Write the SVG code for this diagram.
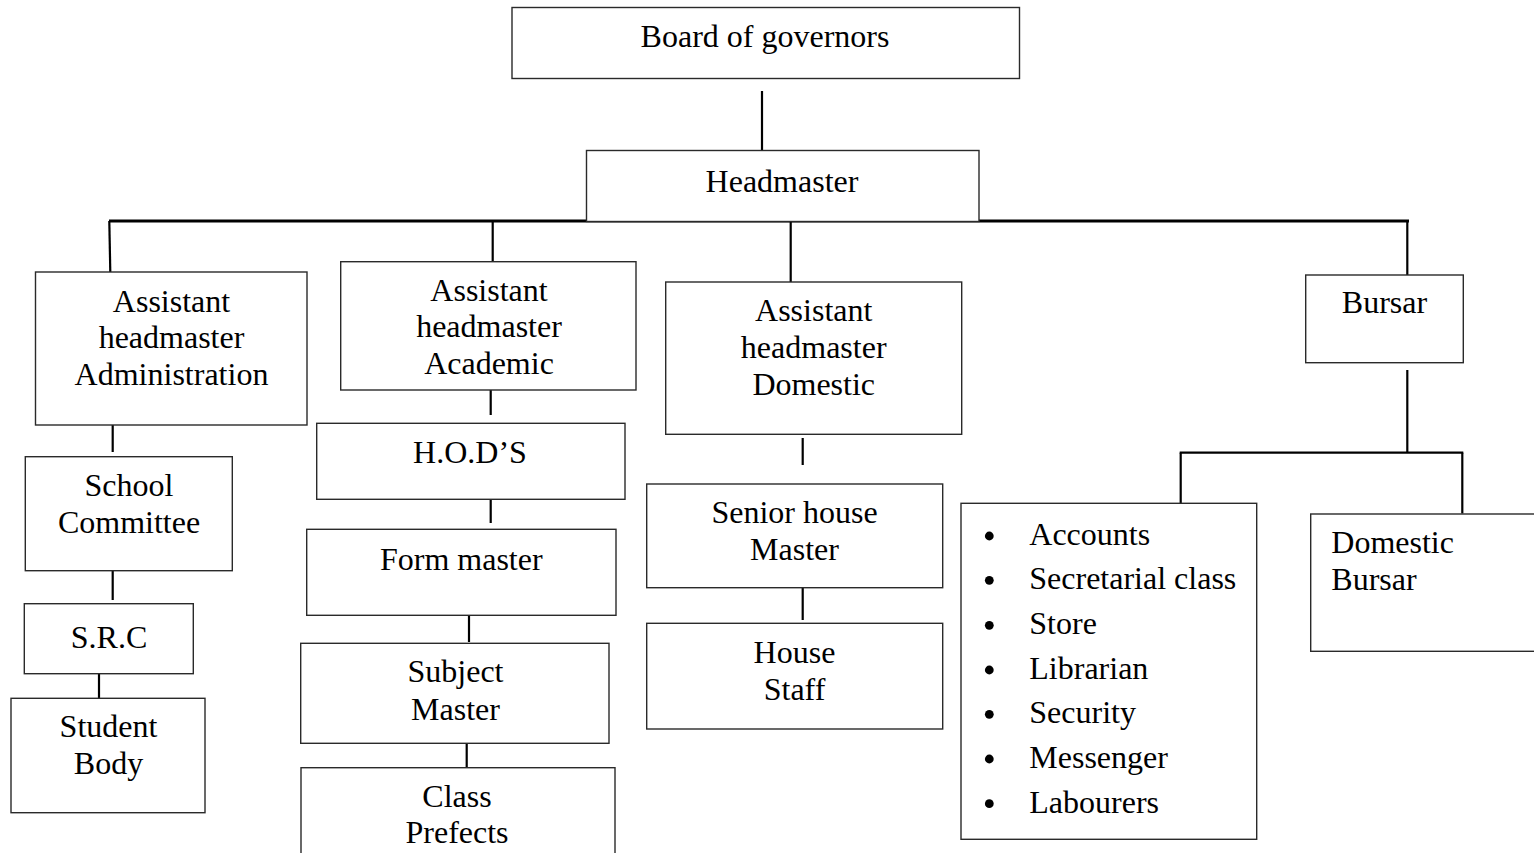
<svg xmlns="http://www.w3.org/2000/svg" width="1534" height="853" viewBox="0 0 1534 853">
<style>
rect.box{fill:#fff;stroke:#2a2a2a;stroke-width:1.4}
text{font-family:"Liberation Serif","Times New Roman",serif;font-size:32px;fill:#000}
text.c{text-anchor:middle}
#connectors line{stroke:#000;stroke-width:2.2}
circle.b{fill:#000}
</style>
<rect width="1534" height="853" fill="#fff"/>
<g id="connectors">
<line x1="762" y1="91" x2="762" y2="150"/>
<line x1="109" y1="221" x2="1409" y2="221" style="stroke-width:2.8"/>
<line x1="109.3" y1="221" x2="110.3" y2="272"/>
<line x1="492.7" y1="221" x2="492.7" y2="262"/>
<line x1="790.7" y1="221" x2="790.7" y2="282"/>
<line x1="1407.3" y1="221" x2="1407.3" y2="275"/>
<line x1="112.7" y1="425" x2="112.7" y2="452"/>
<line x1="112.7" y1="571" x2="112.7" y2="600"/>
<line x1="99" y1="674" x2="99" y2="698"/>
<line x1="490.7" y1="390" x2="490.7" y2="415"/>
<line x1="490.7" y1="498" x2="490.7" y2="523"/>
<line x1="469" y1="615" x2="469" y2="642"/>
<line x1="466.7" y1="738" x2="466.7" y2="768"/>
<line x1="802.7" y1="438" x2="802.7" y2="465"/>
<line x1="802.7" y1="588" x2="802.7" y2="620"/>
<line x1="1407.3" y1="370" x2="1407.3" y2="452.7"/>
<line x1="1179.7" y1="452.7" x2="1463.3" y2="452.7"/>
<line x1="1180.7" y1="452.7" x2="1180.7" y2="503.3"/>
<line x1="1462.3" y1="452.7" x2="1462.3" y2="513.5"/>
</g>
<g id="board"><rect class="box" x="512" y="7.5" width="507.5" height="71"/><text class="c" x="765" y="47.3">Board of governors</text></g>
<g id="headmaster"><rect class="box" x="586.5" y="150.5" width="392.5" height="71"/><text class="c" x="782" y="191.5">Headmaster</text></g>
<g id="ah-admin"><rect class="box" x="35.5" y="272" width="271.5" height="153"/><text class="c" x="171.5" y="311.7">Assistant</text><text class="c" x="171.5" y="347.7">headmaster</text><text class="c" x="171.5" y="385">Administration</text></g>
<g id="ah-academic"><rect class="box" x="340.7" y="261.7" width="295.3" height="128.3"/><text class="c" x="489" y="300.5">Assistant</text><text class="c" x="489" y="337">headmaster</text><text class="c" x="489" y="374">Academic</text></g>
<g id="ah-domestic"><rect class="box" x="665.7" y="282" width="296" height="152.3"/><text class="c" x="813.7" y="321">Assistant</text><text class="c" x="813.7" y="357.7">headmaster</text><text class="c" x="813.7" y="395">Domestic</text></g>
<g id="bursar"><rect class="box" x="1305.7" y="275" width="157.6" height="87.7"/><text class="c" x="1384.5" y="313">Bursar</text></g>
<g id="school-committee"><rect class="box" x="25.3" y="456.7" width="207" height="114"/><text class="c" x="129" y="496">School</text><text class="c" x="129" y="532.7">Committee</text></g>
<g id="src"><rect class="box" x="24.3" y="603.7" width="169" height="70"/><text class="c" x="109" y="647.7">S.R.C</text></g>
<g id="student-body"><rect class="box" x="11" y="698.3" width="194" height="114.4"/><text class="c" x="108.5" y="737.3">Student</text><text class="c" x="108.5" y="774">Body</text></g>
<g id="hods"><rect class="box" x="316.7" y="423.3" width="308.3" height="76"/><text class="c" x="470" y="462.7">H.O.D’S</text></g>
<g id="form-master"><rect class="box" x="306.7" y="529.3" width="309.3" height="86"/><text class="c" x="461.3" y="570">Form master</text></g>
<g id="subject-master"><rect class="box" x="300.7" y="643.3" width="308.3" height="100"/><text class="c" x="455.5" y="681.7">Subject</text><text class="c" x="455.5" y="720">Master</text></g>
<g id="class-prefects"><rect class="box" x="301" y="767.7" width="314" height="100"/><text class="c" x="457" y="806.7">Class</text><text class="c" x="457" y="843.3">Prefects</text></g>
<g id="senior-house-master"><rect class="box" x="646.7" y="484" width="296" height="103.7"/><text class="c" x="794.5" y="522.7">Senior house</text><text class="c" x="794.5" y="560">Master</text></g>
<g id="house-staff"><rect class="box" x="646.7" y="623.3" width="296" height="105.7"/><text class="c" x="794.5" y="662.7">House</text><text class="c" x="794.5" y="700">Staff</text></g>
<g id="bursar-units"><rect class="box" x="961" y="503.3" width="295.7" height="336"/>
<circle class="b" cx="989.3" cy="536" r="4.4"/><text x="1029.3" y="545">Accounts</text>
<circle class="b" cx="989.3" cy="580.3" r="4.4"/><text x="1029.3" y="589.3">Secretarial class</text>
<circle class="b" cx="989.3" cy="625.3" r="4.4"/><text x="1029.3" y="634.3">Store</text>
<circle class="b" cx="989.3" cy="670" r="4.4"/><text x="1029.3" y="679">Librarian</text>
<circle class="b" cx="989.3" cy="714.3" r="4.4"/><text x="1029.3" y="723.3">Security</text>
<circle class="b" cx="989.3" cy="759" r="4.4"/><text x="1029.3" y="768">Messenger</text>
<circle class="b" cx="989.3" cy="803.7" r="4.4"/><text x="1029.3" y="812.7">Labourers</text>
</g>
<g id="domestic-bursar"><rect class="box" x="1310.7" y="514" width="240" height="137.3"/><text x="1331.3" y="552.7">Domestic</text><text x="1331.3" y="590">Bursar</text></g>
</svg>
